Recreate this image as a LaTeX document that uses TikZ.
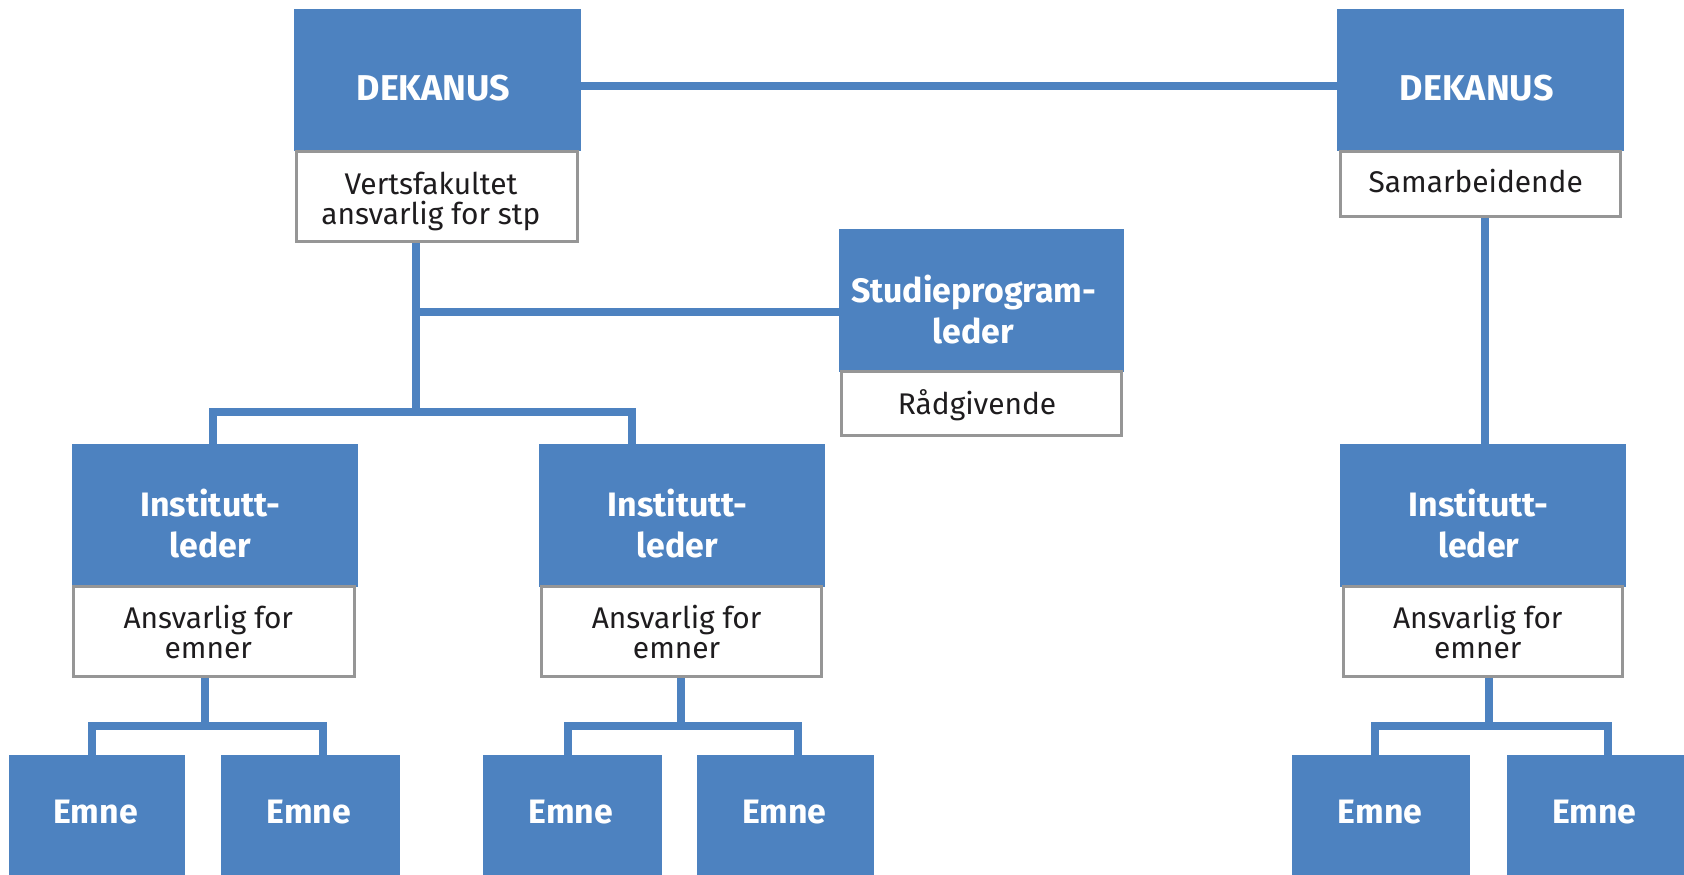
\documentclass[tikz,border=0pt]{standalone}
\usepackage{fontspec}
\setmainfont{Fira Sans}
\definecolor{boxblue}{RGB}{77,130,192}
\definecolor{boxgray}{RGB}{150,150,150}
\definecolor{txtdark}{RGB}{30,28,30}
\pgfdeclarelayer{bg}
\pgfsetlayers{bg,main}
\begin{document}
\begin{tikzpicture}[x=1pt,y=-1pt,
  bluebox/.style={draw=none,fill=boxblue,inner sep=0pt,outer sep=0pt},
  whitebox/.style={draw=boxgray,line width=3pt,fill=white,inner sep=0pt,outer sep=0pt},
  conn/.style={draw=boxblue,line width=8pt},
  btxt/.style={text=white,font=\fontsize{34}{41}\selectfont\bfseries,align=center,inner sep=0pt},
  captxt/.style={btxt,font=\fontsize{36}{41}\selectfont\bfseries},
  wtxt/.style={text=txtdark,font=\fontsize{30}{30}\selectfont,align=center,inner sep=0pt}]
\begin{pgfonlayer}{bg}
\useasboundingbox[fill=white] (0,0) rectangle (1684,867);
\end{pgfonlayer}

% ---- boxes (shapes only) ----
\node[bluebox,minimum width=288pt,minimum height=143pt] (dekL) at (439,80.5) {};
\node[whitebox,minimum width=282pt,minimum height=90pt] (vertL) at (438.5,197.5) {};
\node[bluebox,minimum width=288pt,minimum height=143pt] (dekR) at (1486,80.5) {};
\node[whitebox,minimum width=281pt,minimum height=65pt] (sam) at (1486,185) {};
\node[bluebox,minimum width=286pt,minimum height=143pt] (stud) at (985,301.5) {};
\node[whitebox,minimum width=281pt,minimum height=64pt] (rad) at (985,405) {};

\node[bluebox,minimum width=287pt,minimum height=143pt] (instL) at (215.5,517.5) {};
\node[whitebox,minimum width=282pt,minimum height=90pt] (ansL) at (214.5,634) {};
\node[bluebox,minimum width=287pt,minimum height=143pt] (instM) at (684.5,517.5) {};
\node[whitebox,minimum width=281pt,minimum height=90pt] (ansM) at (684,634) {};
\node[bluebox,minimum width=287pt,minimum height=143pt] (instR) at (1488.5,517.5) {};
\node[whitebox,minimum width=280pt,minimum height=90pt] (ansR) at (1488.5,634) {};

\node[bluebox,minimum width=177pt,minimum height=120pt] (eL1) at (97.5,818) {};
\node[bluebox,minimum width=179pt,minimum height=120pt] (eL2) at (311.5,818) {};
\node[bluebox,minimum width=179pt,minimum height=120pt] (eM1) at (574.5,818) {};
\node[bluebox,minimum width=178pt,minimum height=120pt] (eM2) at (788,818) {};
\node[bluebox,minimum width=178pt,minimum height=120pt] (eR1) at (1386,818) {};
\node[bluebox,minimum width=178pt,minimum height=120pt] (eR2) at (1601,818) {};

% ---- junction coordinates ----
\coordinate (jA) at (417.5,313);
\coordinate (jB) at (417.5,413);
\coordinate (jL) at (214,413);
\coordinate (jM) at (634,413);
\coordinate (xR) at (1490,0);
\coordinate (kL) at (206,729);
\coordinate (kL1) at (92,0);
\coordinate (kL2) at (324,0);
\coordinate (kM) at (683,729);
\coordinate (kM1) at (570,0);
\coordinate (kM2) at (801,0);
\coordinate (kR) at (1494,729);
\coordinate (kR1) at (1380,0);
\coordinate (kR2) at (1614,0);

% ---- connectors ----
\begin{pgfonlayer}{bg}
\draw[conn] ([yshift=-5.5pt]dekL.east) -- ([yshift=-5.5pt]dekR.west);
\draw[conn] (vertL.south -| jA) -- (jB);
\draw[conn] (jA) -- (stud.west |- jA);
\draw[conn] (instL.north -| jL) -- (jL) -- (jM) -- (instM.north -| jM);
\draw[conn] (sam.south -| xR) -- (instR.north -| xR);
\draw[conn] (ansL.south -| kL) -- (kL);
\draw[conn] (eL1.north -| kL1) |- (kL) -| (eL2.north -| kL2);
\draw[conn] (ansM.south -| kM) -- (kM);
\draw[conn] (eM1.north -| kM1) |- (kM) -| (eM2.north -| kM2);
\draw[conn] (ansR.south -| kR) -- (kR);
\draw[conn] (eR1.north -| kR1) |- (kR) -| (eR2.north -| kR2);
\end{pgfonlayer}

% ---- texts ----
\node[captxt] (tDekL) at (435,88) {DEKANUS};
\node[wtxt] (tVert) at (432.5,202) {Vertsfakultet\\ansvarlig for stp};
\node[captxt] (tDekR) at (1482,88) {DEKANUS};
\node[wtxt] (tSam) at (1481,182) {Samarbeidende};
\node[btxt] (tStud) at (977,310.5) {Studieprogram-\\leder};
\node[wtxt] (tRad) at (980.5,407) {Rådgivende};
\node[btxt] (tInstL) at (211,525) {Institutt-\\leder};
\node[btxt] (tInstM) at (680,525) {Institutt-\\leder};
\node[btxt] (tInstR) at (1484,525) {Institutt-\\leder};
\node[wtxt] (tAnsL) at (209,634.5) {Ansvarlig for\\emner};
\node[wtxt] (tAnsM) at (679,634.5) {Ansvarlig for\\emner};
\node[wtxt] (tAnsR) at (1483,634.5) {Ansvarlig for\\emner};
\node[btxt] (tE1) at (96,815) {Emne};
\node[btxt] (tE2) at (310,815) {Emne};
\node[btxt] (tE3) at (573,815) {Emne};
\node[btxt] (tE4) at (787,815) {Emne};
\node[btxt] (tE5) at (1385,815) {Emne};
\node[btxt] (tE6) at (1600,815) {Emne};
\end{tikzpicture}
\end{document}
